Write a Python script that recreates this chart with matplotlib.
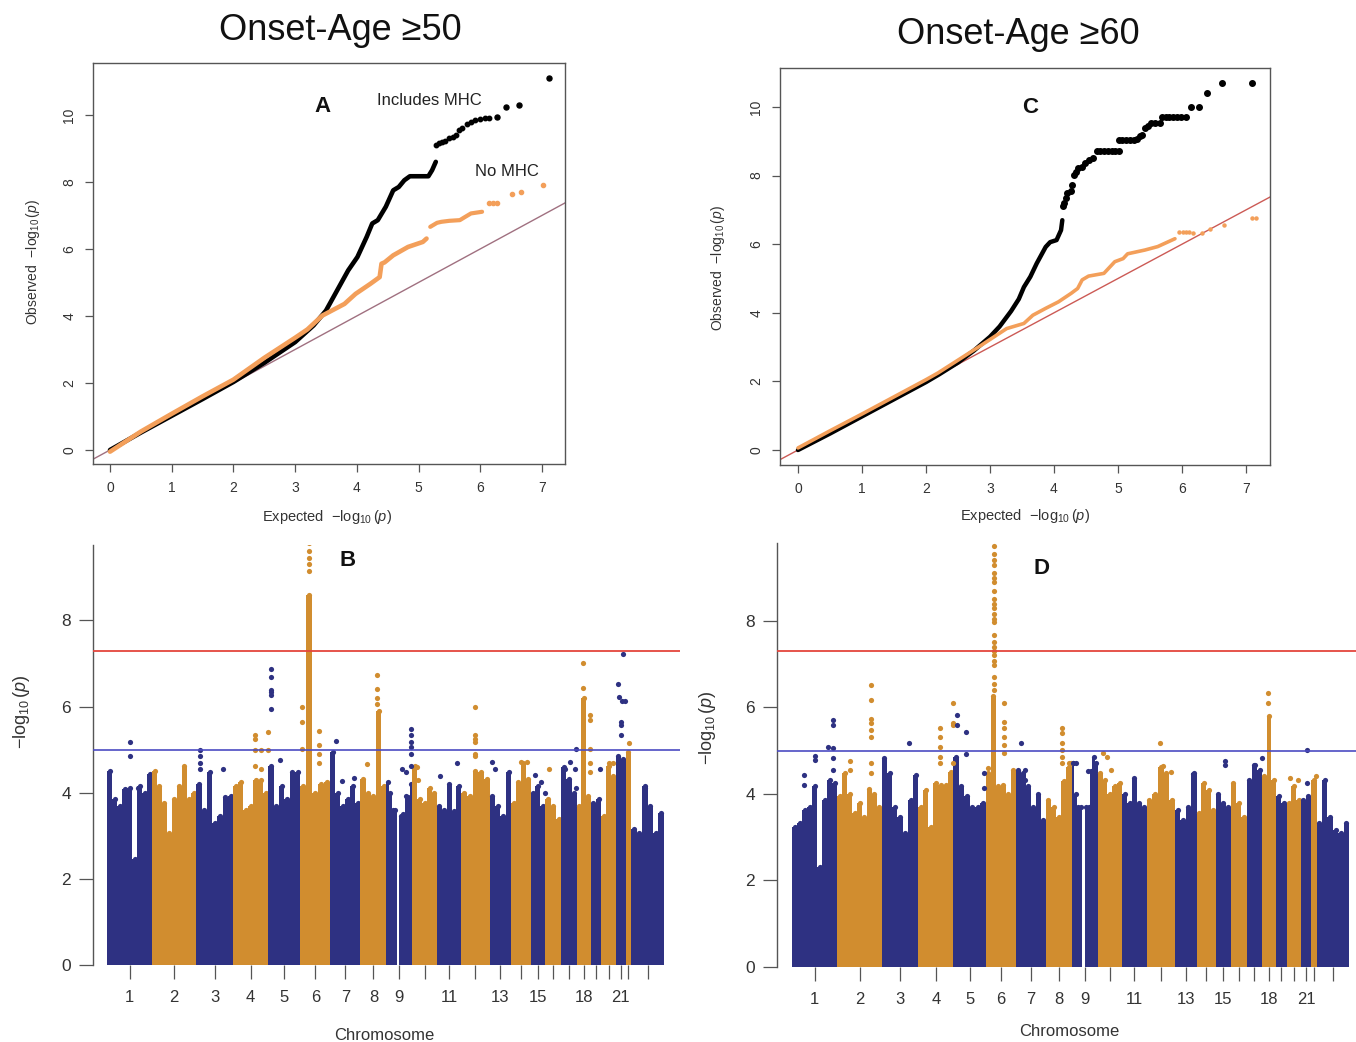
import matplotlib
matplotlib.use('Agg')
import matplotlib.pyplot as plt
import numpy as np

plt.rcParams['font.family'] = ['Liberation Sans', 'DejaVu Sans']
plt.rcParams['mathtext.fontset'] = 'custom'
plt.rcParams['mathtext.rm'] = 'Liberation Sans'
plt.rcParams['mathtext.it'] = 'Liberation Sans:italic'
plt.rcParams['mathtext.bf'] = 'Liberation Sans:bold'

# ---------------- QQ data (panel A: onset >= 50) ----------------
a_blk_exp = [0, 0.5, 1.0, 1.5, 2.0, 2.5, 3.0, 3.3, 3.5, 3.74, 3.86, 4.01, 4.16, 4.25, 4.34, 4.47, 4.59, 4.68, 4.77, 4.86, 5.16, 5.22, 5.28]
a_blk_obs = [0, 0.52, 1.02, 1.52, 2.03, 2.6, 3.22, 3.72, 4.16, 4.96, 5.36, 5.76, 6.36, 6.76, 6.86, 7.26, 7.75, 7.85, 8.05, 8.17, 8.17, 8.35, 8.6]
a_blk2_exp = [5.28, 5.33, 5.38, 5.43, 5.5, 5.56, 5.61, 5.65, 5.7, 5.78, 5.85, 5.92, 6.0, 6.08, 6.15]
a_blk2_obs = [9.1, 9.15, 9.2, 9.22, 9.3, 9.33, 9.4, 9.55, 9.62, 9.72, 9.8, 9.85, 9.88, 9.9, 9.9]
a_blk_top_exp = [6.27, 6.42, 6.63, 7.11]
a_blk_top_obs = [9.95, 10.25, 10.3, 11.1]

a_org_exp = [0, 0.5, 1.0, 1.5, 2.0, 2.5, 3.0, 3.2, 3.44, 3.8, 3.98, 4.22, 4.37, 4.4, 4.45, 4.59, 4.83, 5.07, 5.13]
a_org_obs = [-0.05, 0.55, 1.08, 1.6, 2.1, 2.75, 3.35, 3.6, 4.01, 4.36, 4.66, 4.96, 5.16, 5.56, 5.6, 5.81, 6.06, 6.21, 6.31]
a_org2_exp = [5.19, 5.3, 5.37, 5.5, 5.67, 5.75, 5.85, 6.03]
a_org2_obs = [6.66, 6.78, 6.81, 6.84, 6.86, 6.95, 7.06, 7.11]
a_org_top_exp = [6.15, 6.2, 6.27, 6.51, 6.66, 7.02]
a_org_top_obs = [7.36, 7.37, 7.38, 7.65, 7.7, 7.9]

# ---------------- QQ data (panel C: onset >= 60) ----------------
c_blk_exp = [0, 0.5, 1.0, 1.5, 2.0, 2.2, 2.5, 2.75, 3.0, 3.15, 3.33, 3.45, 3.53, 3.63, 3.73, 3.87, 3.94, 4.04, 4.11, 4.13]
c_blk_obs = [0, 0.48, 0.98, 1.48, 1.98, 2.2, 2.55, 2.9, 3.3, 3.6, 4.05, 4.4, 4.75, 5.05, 5.44, 5.92, 6.06, 6.12, 6.41, 6.7]
c_blk_top_exp = [4.14, 4.16, 4.19, 4.21, 4.26, 4.28, 4.31, 4.35, 4.38, 4.43, 4.48, 4.55, 4.61, 4.67, 4.72, 4.78,
                 4.84, 4.9, 4.96, 5.01, 5.01, 5.07, 5.13, 5.19, 5.25, 5.3, 5.35, 5.38, 5.42, 5.47, 5.52, 5.58,
                 5.65, 5.69, 5.75, 5.8, 5.86, 5.92, 5.98, 6.06, 6.14, 6.26, 6.39, 6.62, 7.1]
c_blk_top_obs = [7.1, 7.2, 7.35, 7.49, 7.55, 7.73, 8.03, 8.1, 8.21, 8.25, 8.36, 8.45, 8.52, 8.71, 8.71, 8.71,
                 8.71, 8.71, 8.71, 8.71, 9.03, 9.03, 9.03, 9.03, 9.03, 9.06, 9.14, 9.17, 9.39, 9.45, 9.54, 9.54,
                 9.54, 9.71, 9.71, 9.71, 9.71, 9.71, 9.71, 9.71, 10.0, 10.0, 10.42, 10.71, 10.71]
c_org_exp = [0, 0.5, 1.0, 1.5, 2.0, 2.19, 2.5, 2.86, 3.26, 3.53, 3.67, 3.87, 4.07, 4.27, 4.37, 4.44, 4.54, 4.78, 4.88, 4.95, 5.08, 5.15, 5.42, 5.62, 5.89]
c_org_obs = [0.06, 0.56, 1.05, 1.55, 2.05, 2.25, 2.62, 3.05, 3.54, 3.69, 3.93, 4.13, 4.32, 4.57, 4.71, 4.96, 5.07, 5.15, 5.35, 5.49, 5.58, 5.72, 5.83, 5.93, 6.16]
c_org_top_exp = [5.96, 6.01, 6.06, 6.11, 6.17, 6.31, 6.43, 6.66, 7.1, 7.15]
c_org_top_obs = [6.37, 6.37, 6.37, 6.37, 6.34, 6.34, 6.45, 6.57, 6.76, 6.76]

# ---------------- Manhattan data ----------------
chrom_spans = [245, 241, 200, 190, 176, 163, 163, 141, 141, 134, 132, 154, 118, 105, 80, 87, 85, 75, 58, 78, 54, 31, 176]
tick_labels = ['1', '2', '3', '4', '5', '6', '7', '8', '9', '', '11', '', '13', '', '15', '', '', '18', '', '', '21', '', '']

b_col_heights = [
    [4.5, 3.85, 3.7, 4.08, 4.12, 2.45, 4.16, 4.0, 4.43],
    [4.5, 4.16, 3.77, 3.07, 3.85, 4.16, 4.63, 3.85, 4.0],
    [4.2, 3.6, 4.47, 3.3, 3.46, 3.9, 3.93],
    [4.16, 4.24, 3.6, 3.7, 4.3, 4.3, 4.0],
    [4.63, 3.7, 4.16, 3.85, 4.47, 4.47],
    [4.16, 8.6, 4.0, 4.2, 4.24],
    [4.94, 4.0, 3.7, 3.85, 4.16, 3.77],
    [4.32, 4.0, 3.93, 5.9, 4.16],
    [4.24, 4.0, 3.6, 3.6, 0, 3.46, 3.5, 3.93, 3.9, 4.2],
    [4.63, 3.85, 3.77, 4.12, 4.0],
    [3.7, 3.6, 4.2, 3.58, 4.16],
    [4.0, 3.93, 4.5, 4.47, 4.32],
    [3.93, 3.7, 3.46, 4.47],
    [3.77, 4.24, 4.7, 4.32],
    [4.0, 4.16, 3.7],
    [3.85, 3.7, 3.38],
    [4.59, 4.32, 4.0],
    [3.7, 6.2, 3.93],
    [3.77, 3.85],
    [3.46, 4.63, 4.39],
    [4.86, 4.78],
    [4.94],
    [3.15, 3.07, 4.16, 3.7, 3.07, 3.54],
]
b_peaks = [
    (1, 0.52, 5.17), (1, 0.52, 4.86), (1, 0.69, 4.1),
    (3, 0.09, 5.0), (3, 0.09, 4.85), (3, 0.09, 4.7), (3, 0.09, 4.55), (3, 0.73, 4.55),
    (4, 0.62, 5.33), (4, 0.62, 5.25), (4, 0.62, 5.0), (4, 0.62, 4.63), (4, 0.81, 5.0), (4, 0.81, 4.55),
    (4, 0.99, 5.4), (4, 0.99, 5.0),
    (5, 0.1, 6.88), (5, 0.1, 6.69), (5, 0.1, 6.38), (5, 0.1, 6.34), (5, 0.1, 6.26), (5, 0.1, 5.95), (5, 0.38, 4.76),
    (6, 0.06, 5.99), (6, 0.06, 5.64), (6, 0.06, 5.02), (6, 0.62, 5.44), (6, 0.62, 5.1), (6, 0.62, 4.9), (6, 0.62, 4.7),
    (6, 0.28, 9.15), (6, 0.28, 9.3), (6, 0.28, 9.45), (6, 0.28, 9.6), (6, 0.28, 9.8),
    (7, 0.17, 5.21), (7, 0.39, 4.28), (7, 0.79, 4.33),
    (8, 0.26, 4.66), (8, 0.62, 6.73), (8, 0.62, 6.4), (8, 0.62, 6.2), (8, 0.62, 6.05),
    (9, 0.96, 5.48), (9, 0.96, 5.33), (9, 0.96, 5.17), (9, 0.96, 5.05), (9, 0.96, 4.9), (9, 0.96, 4.63),
    (9, 0.62, 4.55), (9, 0.74, 4.47),
    (10, 0.19, 4.6), (10, 0.23, 4.3),
    (11, 0.11, 4.39), (11, 0.82, 4.68),
    (12, 0.49, 5.99), (12, 0.49, 5.33), (12, 0.49, 5.25), (12, 0.49, 5.17), (12, 0.49, 4.9), (12, 0.49, 4.86),
    (13, 0.12, 4.72), (13, 0.26, 4.55),
    (14, 0.52, 4.72), (14, 0.83, 4.72),
    (15, 0.27, 4.42), (15, 0.68, 4.24), (15, 0.99, 4.0),
    (16, 0.21, 4.55),
    (17, 0.26, 4.55), (17, 0.57, 4.72), (17, 0.96, 5.02), (17, 0.96, 4.12), (17, 0.91, 4.55),
    (18, 0.44, 7.0), (18, 0.44, 6.42), (18, 0.98, 5.8), (18, 0.98, 5.68), (18, 0.98, 5.02), (18, 0.98, 4.7), (18, 0.98, 4.47),
    (19, 0.9, 4.55),
    (20, 0.53, 4.7), (20, 0.81, 4.7),
    (21, 0.73, 7.23), (21, 0.23, 6.53), (21, 0.33, 6.22), (21, 0.67, 6.14), (21, 0.9, 6.14),
    (21, 0.57, 5.64), (21, 0.57, 5.56), (21, 0.57, 5.33),
    (22, 0.59, 5.16),
    (23, 0.43, 4.12),
]

d_col_heights = [
    [3.24, 3.32, 3.63, 3.7, 4.17, 2.3, 3.86, 4.32, 4.24],
    [3.94, 4.48, 4.0, 3.55, 3.78, 3.47, 4.1, 4.0, 3.7],
    [4.82, 4.48, 3.7, 3.47, 3.09, 3.86, 4.44],
    [3.7, 4.09, 3.24, 4.24, 4.2, 4.2, 4.5],
    [4.86, 4.17, 3.94, 3.7, 3.7, 3.78],
    [4.48, 6.25, 4.17, 4.2, 4.0, 4.55],
    [4.55, 4.48, 4.17, 3.7, 4.0, 3.4],
    [3.86, 3.7, 3.47, 4.3, 4.63],
    [4.7, 4.0, 3.7, 3.7, 0, 3.7, 3.7, 4.53, 4.86, 4.7],
    [4.48, 4.32, 4.0, 4.17, 4.24],
    [4.0, 3.78, 4.36, 3.78, 3.7],
    [3.86, 4.0, 4.63, 4.48, 3.86],
    [3.63, 3.4, 3.7, 4.48],
    [3.55, 4.24, 4.09, 3.63],
    [4.0, 3.78, 3.7],
    [4.24, 3.78, 3.47],
    [4.32, 4.67, 4.55],
    [4.4, 5.79, 4.32],
    [3.94, 3.78],
    [3.78, 4.17, 3.86],
    [3.86, 3.94],
    [4.32],
    [3.32, 4.32, 3.47, 3.16, 3.09, 3.32],
]
d_peaks = [
    (1, 0.27, 4.44), (1, 0.27, 4.2), (1, 0.5, 4.88), (1, 0.5, 4.78), (1, 0.8, 5.09), (1, 0.91, 5.05),
    (1, 0.91, 5.71), (1, 0.91, 5.6), (1, 0.91, 4.82), (1, 0.91, 4.55),
    (2, 0.29, 4.76), (2, 0.29, 4.55), (2, 0.75, 6.52), (2, 0.75, 6.16), (2, 0.75, 5.73), (2, 0.75, 5.63),
    (2, 0.75, 5.48), (2, 0.75, 5.32), (2, 0.75, 4.7), (2, 0.75, 4.48),
    (3, 0.73, 5.17),
    (4, 0.62, 5.52), (4, 0.62, 5.32), (4, 0.62, 5.09), (4, 0.62, 4.86), (4, 0.62, 4.7),
    (4, 0.98, 6.1), (4, 0.98, 5.63), (4, 0.98, 5.6), (4, 0.98, 4.7),
    (5, 0.1, 5.83), (5, 0.1, 5.6), (5, 0.38, 5.42), (5, 0.38, 4.92), (5, 0.95, 4.48), (5, 0.95, 4.13),
    (6, 0.08, 4.6),
    (6, 0.27, 9.72), (6, 0.27, 9.55), (6, 0.27, 9.4), (6, 0.27, 9.3), (6, 0.27, 9.1), (6, 0.27, 9.0),
    (6, 0.27, 8.9), (6, 0.27, 8.68), (6, 0.27, 8.5), (6, 0.27, 8.4), (6, 0.27, 8.3), (6, 0.27, 8.15),
    (6, 0.27, 8.05), (6, 0.27, 7.98), (6, 0.27, 7.68), (6, 0.27, 7.5), (6, 0.27, 7.4), (6, 0.27, 7.3),
    (6, 0.27, 7.2), (6, 0.27, 7.06), (6, 0.27, 6.98), (6, 0.27, 6.7), (6, 0.27, 6.55), (6, 0.27, 6.4),
    (6, 0.61, 6.1), (6, 0.61, 5.67), (6, 0.61, 5.52), (6, 0.61, 5.32), (6, 0.61, 5.13), (6, 0.61, 4.94),
    (7, 0.16, 5.17), (7, 0.31, 4.55), (7, 0.31, 4.32),
    (8, 0.63, 5.53), (8, 0.63, 5.4), (8, 0.63, 5.17), (8, 0.63, 5.02), (8, 0.63, 4.86), (8, 0.63, 4.7),
    (8, 0.88, 4.7), (8, 0.96, 4.7),
    (9, 0.05, 4.7), (9, 0.18, 4.7), (9, 0.64, 4.53),
    (10, 0.2, 4.94), (10, 0.37, 4.86), (10, 0.53, 4.55),
    (12, 0.47, 5.17), (12, 0.59, 4.64), (12, 0.88, 4.5),
    (13, 0.85, 4.45),
    (15, 0.63, 4.76), (15, 0.63, 4.67),
    (17, 0.99, 4.82), (17, 0.54, 4.67),
    (18, 0.45, 6.33), (18, 0.45, 6.1),
    (20, 0.24, 4.36), (20, 0.76, 4.32),
    (21, 0.64, 5.02), (21, 0.64, 4.24),
    (22, 0.95, 4.4),
]

# ---------------- styling constants ----------------
W, H = 1356, 1042
BLUE = '#2E3182'
ORANGE = '#D18D2F'
QQ_ORANGE = '#F39F5A'
TXT = '#333333'
SPINE = '#555555'

fig = plt.figure(figsize=(W / 100, H / 100), dpi=100)


def ax_px(l, r, t, b):
    return fig.add_axes([l / W, 1 - b / H, (r - l) / W, (b - t) / H])


def style_qq(ax):
    for s in ax.spines.values():
        s.set_color(SPINE)
        s.set_linewidth(1.0)
    ax.set_xticks(range(0, 8))
    ax.set_yticks([0, 2, 4, 6, 8, 10])
    ax.tick_params(length=6, width=0.9, color=SPINE, labelsize=10, labelcolor=TXT, pad=6)
    for lab in ax.get_yticklabels():
        lab.set_rotation(90)
        lab.set_va('center')


# ---------------- Panel A ----------------
axA = ax_px(93, 565, 63, 464)
axA.set_xlim(-0.2755, 7.374)
axA.set_ylim(-0.418, 11.55)
axA.plot([-1, 8], [-1, 8], color='#A07080', lw=1.0, zorder=1)
axA.plot(a_blk_exp, a_blk_obs, color='black', lw=3.3, solid_capstyle='round', solid_joinstyle='round', zorder=2)
axA.plot(a_blk2_exp, a_blk2_obs, color='black', lw=0, marker='o', ms=3.2, zorder=2)
axA.plot(a_blk_top_exp, a_blk_top_obs, color='black', lw=0, marker='o', ms=3.6, zorder=2)
axA.plot(a_org_exp, a_org_obs, color=QQ_ORANGE, lw=3.3, solid_capstyle='round', solid_joinstyle='round', zorder=3)
axA.plot(a_org2_exp, a_org2_obs, color=QQ_ORANGE, lw=3.0, solid_capstyle='round', zorder=3)
axA.plot(a_org_top_exp, a_org_top_obs, color=QQ_ORANGE, lw=0, marker='o', ms=3.0, zorder=3)
style_qq(axA)
axA.text(3.44, 10.24, 'A', fontsize=16, fontweight='bold', ha='center', va='center', color='#111111')
axA.text(5.17, 10.42, 'Includes MHC', fontsize=12, ha='center', va='center', color='#222222')
axA.text(6.43, 8.3, 'No MHC', fontsize=12, ha='center', va='center', color='#222222')

# ---------------- Panel C ----------------
axC = ax_px(780, 1270, 68, 465)
axC.set_xlim(-0.281, 7.375)
axC.set_ylim(-0.437, 11.137)
axC.plot([-1, 8], [-1, 8], color='#CC5A55', lw=1.0, zorder=1)
axC.plot(c_blk_exp, c_blk_obs, color='black', lw=3.2, solid_capstyle='round', solid_joinstyle='round', zorder=2)
axC.plot(c_blk_top_exp, c_blk_top_obs, color='black', lw=0, marker='o', ms=4.0, zorder=2)
axC.plot(c_org_exp, c_org_obs, color=QQ_ORANGE, lw=2.6, solid_capstyle='round', solid_joinstyle='round', zorder=3)
axC.plot(c_org_top_exp, c_org_top_obs, color=QQ_ORANGE, lw=0, marker='o', ms=2.2, zorder=3)
style_qq(axC)
axC.text(3.63, 10.0, 'C', fontsize=16, fontweight='bold', ha='center', va='center', color='#111111')

# ---------------- Manhattan helper ----------------
spans = np.array(chrom_spans, dtype=float)
starts = np.concatenate([[0.0], np.cumsum(spans)[:-1]])
total = spans.sum()
per_px = total / 556.7


def manhattan(ax, col_heights, peaks, ymax, left_px):
    for i, hs in enumerate(col_heights):
        col = BLUE if i % 2 == 0 else ORANGE
        n = len(hs)
        w = spans[i] / n
        xs = starts[i] + (np.arange(n) + 0.5) * w
        hs_arr = np.array(hs, dtype=float)
        ax.bar(xs, hs_arr, width=w, color=col, linewidth=0, zorder=1)
        keep = hs_arr > 0
        ax.scatter(xs[keep], hs_arr[keep], s=14, color=col, linewidths=0, zorder=1)
    for (c, f, v) in peaks:
        col = BLUE if (c - 1) % 2 == 0 else ORANGE
        ax.scatter([starts[c - 1] + f * spans[c - 1]], [v], s=14, color=col, linewidths=0, zorder=1)
    ax.axhline(7.3, color='#E4453D', lw=1.3, zorder=3)
    ax.axhline(5.0, color='#4B4BC2', lw=1.2, zorder=3)
    ax.set_xlim(-left_px * per_px, -left_px * per_px + 587 * per_px)
    ax.set_ylim(0, ymax)
    for k in ['top', 'right', 'bottom']:
        ax.spines[k].set_visible(False)
    ax.spines['left'].set_color(SPINE)
    ax.spines['left'].set_linewidth(1.0)
    ax.set_xticks(starts + spans / 2)
    ax.set_xticklabels(tick_labels)
    ax.set_yticks([0, 2, 4, 6, 8])
    ax.tick_params(axis='x', length=10, width=0.9, color=SPINE, labelsize=12, labelcolor=TXT, pad=8)
    ax.tick_params(axis='y', length=10, width=0.9, color=SPINE, labelsize=12.5, labelcolor=TXT, pad=6)


axB = ax_px(93, 680, 545, 965)
manhattan(axB, b_col_heights, b_peaks, 9.75, 14)
axB.text(1310, 9.39, 'B', fontsize=16, fontweight='bold', ha='center', va='center', color='#111111')

axD = ax_px(777, 1364, 543, 966.7)
manhattan(axD, d_col_heights, d_peaks, 9.8, 15.3)
axD.text(1354, 9.2, 'D', fontsize=16, fontweight='bold', ha='center', va='center', color='#111111')

# ---------------- figure texts ----------------
def ftext(x, y, s, **kw):
    fig.text(x / W, 1 - y / H, s, ha='center', va='center', **kw)


ftext(340, 30, 'Onset-Age ≥50', fontsize=26, color='#111111')
ftext(1018, 34, 'Onset-Age ≥60', fontsize=26, color='#111111')
ftext(33, 262, r'Observed  $-\log_{10}(p)$', fontsize=10, rotation=90, color=TXT)
ftext(327, 517, r'Expected  $-\log_{10}(p)$', fontsize=10.5, color=TXT)
ftext(718, 268, r'Observed  $-\log_{10}(p)$', fontsize=10, rotation=90, color=TXT)
ftext(1025, 516, r'Expected  $-\log_{10}(p)$', fontsize=10.5, color=TXT)
ftext(22, 712, r'$-\log_{10}(p)$', fontsize=13, rotation=90, color=TXT)
ftext(708, 728, r'$-\log_{10}(p)$', fontsize=13, rotation=90, color=TXT)
ftext(384, 1035, 'Chromosome', fontsize=12, color=TXT)
ftext(1069, 1031, 'Chromosome', fontsize=12, color=TXT)

fig.savefig('out.png', dpi=100)
